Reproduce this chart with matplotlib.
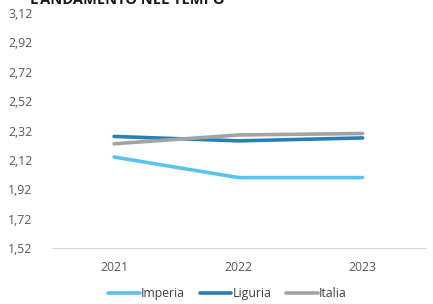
import matplotlib
matplotlib.use('Agg')
import matplotlib.pyplot as plt

years = ['2021', '2022', '2023']
imperia = [2.14, 2.00, 2.00]
liguria = [2.28, 2.25, 2.27]
italia = [2.23, 2.29, 2.30]
y_ticks = [1.52, 1.72, 1.92, 2.12, 2.32, 2.52, 2.72, 2.92, 3.12]

plt.rcParams['font.family'] = ['Open Sans', 'DejaVu Sans']

fig = plt.figure(figsize=(4.33, 3.04), dpi=100)
ax = fig.add_axes([0.12, 0.184, 0.861, 0.773])

x = range(len(years))
ax.plot(x, imperia, color='#5bc2ee', lw=2.6, label='Imperia', solid_capstyle='round')
ax.plot(x, liguria, color='#2a7db5', lw=2.6, label='Liguria', solid_capstyle='round')
ax.plot(x, italia, color='#a3a3a3', lw=2.6, label='Italia', solid_capstyle='round')

ax.set_xlim(-0.5, 2.5)
ax.set_ylim(1.52, 3.12)
ax.set_yticks(y_ticks)
ax.set_yticklabels(['{:.2f}'.format(v).replace('.', ',') for v in y_ticks])
ax.set_xticks(list(x))
ax.set_xticklabels(years)
ax.tick_params(axis='both', length=0, labelsize=8.8, colors='#595959')
ax.tick_params(axis='x', pad=9)
ax.tick_params(axis='y', pad=14)
for s in ['top', 'right', 'left']:
    ax.spines[s].set_visible(False)
ax.spines['bottom'].set_color('#d9d9d9')
ax.spines['bottom'].set_linewidth(0.8)

fig.legend(loc='center', bbox_to_anchor=(0.525, 0.033), ncol=3, frameon=False,
           fontsize=8.8, handlelength=2.6, handletextpad=0.1, columnspacing=1.2,
           labelcolor='#404040')

fig.text(0.07, 1 - 4 / 304, "L'ANDAMENTO NEL TEMPO", fontsize=10.5, fontweight='bold',
         va='baseline', ha='left', color='#1a1a1a')

fig.savefig('out.png', dpi=100)
